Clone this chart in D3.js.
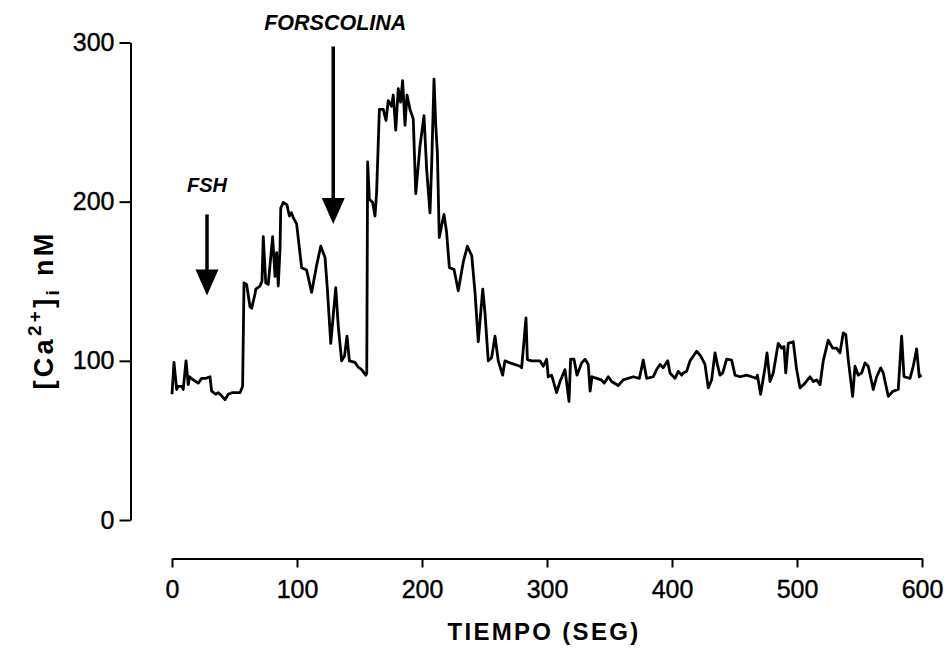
<!DOCTYPE html>
<html>
<head>
<meta charset="utf-8">
<script src="https://cdn.jsdelivr.net/npm/d3@7"></script>
<style>
  html, body { margin: 0; padding: 0; background: #fff; }
  svg { display: block; }
  text { font-family: "Liberation Sans", Arial, Helvetica, sans-serif; fill: #000; }
</style>
</head>
<body>
<svg id="chart" width="950" height="649"></svg>
<script>
// ---- data ----
const timeSec = [0,1.6,3.7,5,7.7,9,11.2,13,14,17,19,21,23.7,27,30.4,31.7,35,37,39.7,42.4,45,48,54.4,56.5,
57.6,59.7,62.4,63.7,66.4,67,70.4,72,73,75,77,80.5,82.4,83.7,85,86.4,87,89,92,93.9,95.5,97.6,99.7,
103.7,107.7,111.7,115.7,119,122.4,124.3,127,131,133,135.7,138,140,141.9,146.4,149,151.7,153.6,155,155.8,
156.5,157.9,160.5,162.4,163.7,165.9,169,171.2,173,175.7,177,179,181,182.9,184.5,186.4,188,190.4,193,195,
198.4,201.6,203.7,206.4,207.7,209.6,211,212.3,213.8,215.7,217.6,219.7,221.9,225.6,229,233,236.3,239.8,
242.4,245,248.6,250.4,253,255.7,258.4,261,264.5,266.4,270.4,278.4,279.7,283.2,284.3,287.7,294.4,297,
299.7,301,303.7,307.7,310.4,314.4,317.6,318.9,321.6,324,327.7,330.5,333,334.5,336,339.7,343.4,345.8,349,
351.7,357,361,369,373.9,377,379.7,385,387.7,390.4,393,396.6,398.4,402.4,405,407.7,409,411.7,414.4,419.7,
423,426.4,429,431.7,434.4,436.3,438.4,440.6,443.7,447.7,450.4,454.4,459.7,463.7,467.7,468.3,470.9,474.4,
476,478.4,481,485,487.7,489.6,491,493,497,499.7,502.4,506.4,510.4,513,515.7,518.4,521,525,528.5,531.7,
534.4,537,539,541,544.5,546.4,549,551.7,554.4,557,561,563.7,567,569,573,577,581,583.7,585.6,590.4,593,
595.7,597.8,599.7];
const calcium = [79,99,82,84,84,82,100,85,90,88,87,86,89,89,90,81,79,80,78,75.6,79,80,80,84,
149,148,134,133,142,145,147,150,178,149,148,178,153,168,147,170,196,199.5,198,191,193,189,186,
158.5,157,143,160,172,165,145,111,146,122,100,103,115.5,100,99,96,94.5,92.4,91,92,
225,201.6,199.5,191,206,258,258,251,263.5,260,267,245,271,262.5,276,248,267,258,252,205,
235,254,220.5,193,222.6,277,248,231,177.5,185,192,180.6,158.5,157.5,144,162,172,166,
143,112,145,130,100,102,115.5,100,91,100,98.7,96.6,95.6,127,100.8,100,100,96.6,
101,90,91,80,87,94.5,74.5,101,101,91,98.7,101,97.7,81,90,89,88,86,90,
87,84.5,88,90,89,100.5,89,90,94.5,97.7,95.6,100,92.4,89,93.4,91,92.4,93.4,100,106,
103,97.7,83,88,105,97.7,91,92.4,101,100.5,91,90,91,90,89,91,79,95.6,
105,87,92.4,111,108,109,92.4,111,112,94.5,83,86,90,87,88,85,100,113,108,108,
105,117.6,116.6,100.8,77.7,96.6,91,92.4,98.7,96.6,82,90,95.6,92.4,77.7,81,82,115.5,90,89,96.6,
107.5,90,91];
const yTicks = [0, 100, 200, 300];
const xTicks = [0, 100, 200, 300, 400, 500, 600];
const arrowLabels = ["FSH", "FORSCOLINA"];
const arrowTime = [28, 129];        // seconds
const arrowTop = [192, 297.5];      // nM, start of shaft
const arrowTip = [141, 186];        // nM, tip of head
const labelLevel = [206, 308];      // nM, label baseline
const xTitle = "TIEMPO (SEG)";

// ---- chart ----
const svg = d3.select("#chart");
const x = d3.scaleLinear().domain([0, 600]).range([172, 922]);
const y = d3.scaleLinear().domain([0, 300]).range([520, 42.5]);
const yAxisX = 130.5, xAxisY = 558.5;

const yAxis = svg.append("g")
  .attr("transform", `translate(${yAxisX},0)`)
  .call(d3.axisLeft(y).tickValues(yTicks).tickSize(11).tickSizeOuter(0).tickPadding(5));
const xAxis = svg.append("g")
  .attr("transform", `translate(0,${xAxisY})`)
  .call(d3.axisBottom(x).tickValues(xTicks).tickSize(9).tickSizeOuter(0).tickPadding(13));

[yAxis, xAxis].forEach(g => {
  g.select(".domain").attr("stroke", "#000").attr("stroke-width", 2);
  g.selectAll(".tick line").attr("stroke", "#000").attr("stroke-width", 2);
  g.selectAll(".tick text").attr("font-size", 25).attr("fill", "#000")
    .attr("font-family", '"Liberation Sans", Arial, sans-serif')
    .attr("stroke", "#000").attr("stroke-width", 0.4);
});

// data line
const pts = timeSec.map((t, i) => [t, calcium[i]]);
svg.append("path")
  .datum(pts)
  .attr("fill", "none")
  .attr("stroke", "#000")
  .attr("stroke-width", 2.8)
  .attr("stroke-linejoin", "round")
  .attr("d", d3.line().x(d => x(d[0])).y(d => y(d[1])));

// arrows
arrowLabels.forEach((lab, i) => {
  const ax = x(arrowTime[i]);
  const yTop = y(arrowTop[i]), yTip = y(arrowTip[i]);
  const headH = 26, headW = 23;
  svg.append("line")
    .attr("x1", ax).attr("x2", ax)
    .attr("y1", yTop).attr("y2", yTip - headH + 2)
    .attr("stroke", "#000").attr("stroke-width", 3.5);
  svg.append("path")
    .attr("d", `M${ax - headW / 2},${yTip - headH} L${ax + headW / 2},${yTip - headH} L${ax},${yTip} Z`)
    .attr("fill", "#000");
  svg.append("text")
    .attr("x", i === 0 ? ax : ax + 2)
    .attr("y", y(labelLevel[i]))
    .attr("text-anchor", "middle")
    .attr("font-size", i === 0 ? 20 : 21.5)
    .attr("font-weight", "bold")
    .attr("font-style", "italic")
    .text(lab);
});

// x title
svg.append("text")
  .attr("x", 544).attr("y", 640)
  .attr("text-anchor", "middle")
  .attr("font-size", 24)
  .attr("font-weight", "bold")
  .attr("letter-spacing", 2.3)
  .text(xTitle);

// y title
const yt = svg.append("text")
  .attr("transform", "translate(53,310) rotate(-90)")
  .attr("text-anchor", "middle")
  .attr("font-size", 27)
  .attr("font-weight", "bold")
  .attr("letter-spacing", 3.3);
yt.append("tspan").text("[Ca");
yt.append("tspan").attr("dy", -12).attr("font-size", 19).text("2+");
yt.append("tspan").attr("dy", 12).text("]");
yt.append("tspan").attr("dy", 6).attr("font-size", 19).text("i");
yt.append("tspan").attr("dy", -6).text(" nM");
</script>
</body>
</html>
